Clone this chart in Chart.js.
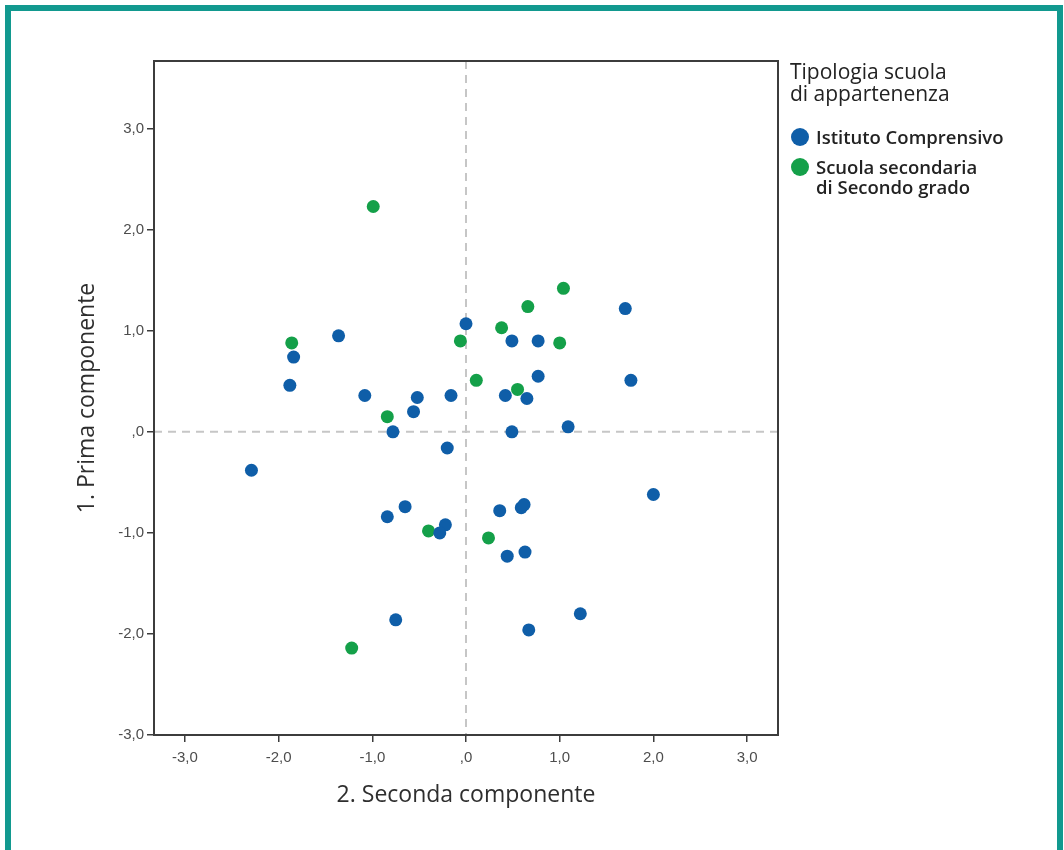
<!DOCTYPE html>
<html>
<head>
<meta charset="utf-8">
<script src="https://cdn.jsdelivr.net/npm/chart.js@4.4.1/dist/chart.umd.min.js"></script>
<style>
  body { margin: 0; background: #fff; }
  .wrap { position: relative; width: 1064px; height: 850px; overflow: hidden; }
  .frame { position: absolute; left: 5px; top: 5px; width: 1046px; height: 900px; border: 6px solid #12998f; }
  #chart { position: absolute; left: 0; top: 0; }
  .lg { position: absolute; font-family: "Open Sans", sans-serif; color: #222; white-space: nowrap; }
  .lg.title { font-size: 21px; font-weight: 500; line-height: 22px; left: 790px; }
  .lg.item { font-size: 18.5px; font-weight: 600; line-height: 20px; left: 816px; }
  .dot { position: absolute; left: 791px; width: 18px; height: 18px; border-radius: 50%; }
</style>
</head>
<body>
<div class="wrap">
  <div class="frame"></div>
  <canvas id="chart" width="1064" height="850"></canvas>

  <div class="lg title" style="top:60px">Tipologia scuola</div>
  <div class="lg title" style="top:82px">di appartenenza</div>
  <div class="dot" style="top:128px;background:#0f5ea8"></div>
  <div class="lg item" style="top:127px">Istituto Comprensivo</div>
  <div class="dot" style="top:158px;background:#14a049"></div>
  <div class="lg item" style="top:157px">Scuola secondaria</div>
  <div class="lg item" style="top:177px">di Secondo grado</div>
</div>

<script>
// Data

const blueX = [-1.84, -1.36, -1.88, -1.08, -0.56, -0.52, -0.16, 0.00, 0.49, 0.77, 1.70, 0.77, 1.76, 0.42, 0.65,
  -0.78, 0.49, 1.09, -0.20, -2.29, 2.00, -0.65, -0.84, 0.36, 0.59, 0.62, -0.22, -0.28, 0.44, 0.63, 1.22, -0.75, 0.67];
const blueY = [0.74, 0.95, 0.46, 0.36, 0.20, 0.34, 0.36, 1.07, 0.90, 0.90, 1.22, 0.55, 0.51, 0.36, 0.33,
  0.00, 0.00, 0.05, -0.16, -0.38, -0.62, -0.74, -0.84, -0.78, -0.75, -0.72, -0.92, -1.00, -1.23, -1.19, -1.80, -1.86, -1.96];

const greenX = [-1.86, -0.99, -0.84, -0.06, 0.11, 0.38, 0.66, 1.04, 1.00, 0.55, -0.40, 0.24, -1.22];
const greenY = [0.88, 2.23, 0.15, 0.90, 0.51, 1.03, 1.24, 1.42, 0.88, 0.42, -0.98, -1.05, -2.14];

const xTicks = [-3, -2, -1, 0, 1, 2, 3];
const yTicks = [-3, -2, -1, 0, 1, 2, 3];

const seriesNames = ["Istituto Comprensivo", "Scuola secondaria di Secondo grado"];



// Helpers

function fmt(v) {
  if (v === 0) return ",0";
  return v.toFixed(1).replace(".", ",");
}

function toPoints(xs, ys) {
  return xs.map((x, i) => ({ x: x, y: ys[i] }));
}



// Frame + dashed zero lines

const framePlugin = {
  id: "frame",
  beforeDatasetsDraw(chart) {
    const { ctx, chartArea, scales } = chart;
    const x0 = scales.x.getPixelForValue(0);
    const y0 = scales.y.getPixelForValue(0);
    ctx.save();
    ctx.strokeStyle = "#c6c6c6";
    ctx.lineWidth = 2;
    ctx.setLineDash([8, 6]);
    ctx.beginPath();
    ctx.moveTo(x0, chartArea.top);
    ctx.lineTo(x0, chartArea.bottom);
    ctx.moveTo(chartArea.left, y0);
    ctx.lineTo(chartArea.right, y0);
    ctx.stroke();
    ctx.restore();
  },
  afterDraw(chart) {
    const { ctx, chartArea } = chart;
    ctx.save();
    ctx.strokeStyle = "#3c3c3c";
    ctx.lineWidth = 2;
    ctx.strokeRect(chartArea.left, chartArea.top, chartArea.right - chartArea.left, chartArea.bottom - chartArea.top);
    ctx.restore();
  }
};



// Chart

const tickFont = { family: "Liberation Sans", size: 15 };
const titleFont = { family: "Open Sans", size: 23, weight: 500 };

new Chart(document.getElementById("chart"), {
  type: "scatter",
  data: {
    datasets: [
      {
        label: seriesNames[0],
        data: toPoints(blueX, blueY),
        backgroundColor: "#0f5ea8",
        borderWidth: 0,
        pointRadius: 6.5
      },
      {
        label: seriesNames[1],
        data: toPoints(greenX, greenY),
        backgroundColor: "#14a049",
        borderWidth: 0,
        pointRadius: 6.5
      }
    ]
  },
  options: {
    responsive: false,
    animation: false,
    layout: { padding: { left: 0, top: 61, right: 286, bottom: 0 } },
    plugins: {
      legend: { display: false },
      tooltip: { enabled: false }
    },
    scales: {
      x: {
        type: "linear",
        min: -3.33,
        max: 3.33,
        afterBuildTicks: (s) => { s.ticks = xTicks.map(v => ({ value: v })); },
        afterFit: (s) => { s.height = 115; },
        grid: { drawOnChartArea: false, tickLength: 7, color: "#3c3c3c", lineWidth: 1.5 },
        border: { color: "#3c3c3c", width: 2 },
        ticks: { callback: fmt, color: "#4d4d4d", font: tickFont, padding: 7, maxRotation: 0 },
        title: { display: true, text: "2. Seconda componente", color: "#2e2e2e", font: titleFont, padding: { bottom: 41 } }
      },
      y: {
        type: "linear",
        min: -3.0,
        max: 3.67,
        afterBuildTicks: (s) => { s.ticks = yTicks.map(v => ({ value: v })); },
        afterFit: (s) => { s.width = 154; },
        grid: { drawOnChartArea: false, tickLength: 7, color: "#3c3c3c", lineWidth: 1.5 },
        border: { color: "#3c3c3c", width: 2 },
        ticks: { callback: fmt, color: "#4d4d4d", font: tickFont, padding: 3 },
        title: { display: true, text: "1. Prima componente", color: "#2e2e2e", font: titleFont, padding: { top: 74 } }
      }
    }
  },
  plugins: [framePlugin]
});
</script>
</body>
</html>
